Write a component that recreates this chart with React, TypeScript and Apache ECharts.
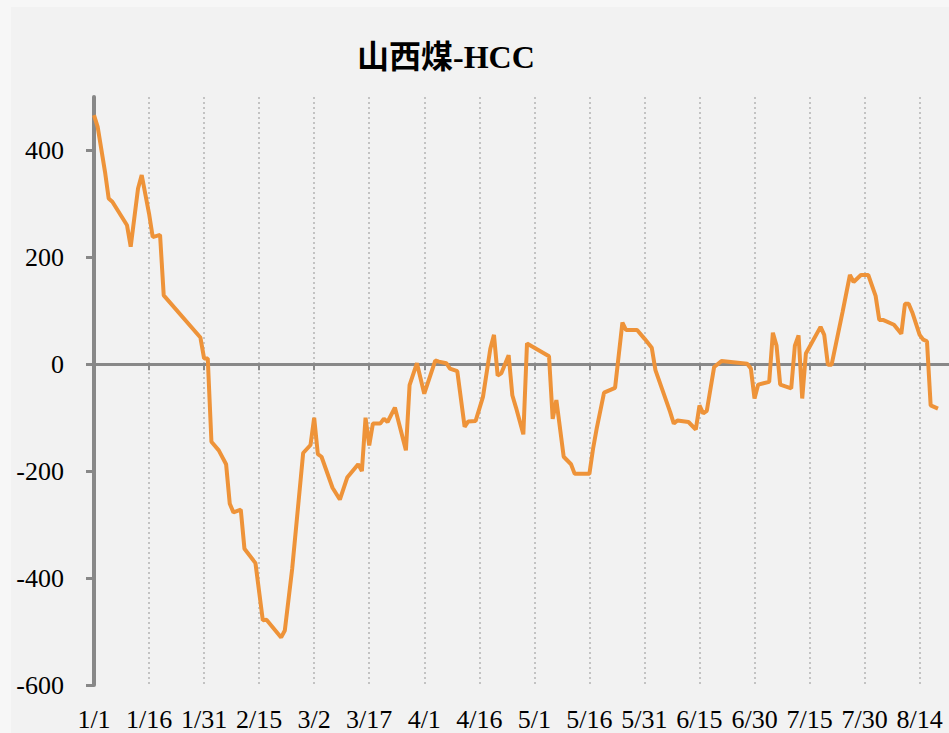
import React, { useEffect, useRef } from "react";
import * as echarts from "echarts";

// Category axis: every calendar day from 1/1 to 8/22 (labels shown every 15 days)
const DAY_COUNT = 234;
const dayLabels: string[] = Array.from({ length: DAY_COUNT }, (_, i) => {
  const d = new Date(2021, 0, 1 + i);
  return `${d.getMonth() + 1}/${d.getDate()}`;
});

// Observed points: index of the day (from 1/1) and value
const pointDays = [
  0, 1, 3, 4, 5, 9, 10, 12, 13, 15, 16, 18, 19, 29, 30, 31, 32, 34, 36, 37,
  38, 40, 41, 44, 46, 47, 51, 52, 54, 57, 59, 60, 61, 62, 65, 67, 69, 72, 73, 74,
  75, 76, 78, 79, 80, 82, 85, 86, 88, 90, 93, 94, 96, 97, 99, 101, 102, 104, 106, 108,
  109, 110, 111, 113, 114, 115, 117, 118, 124, 125, 126, 128, 130, 131, 135, 136, 137, 139, 142, 144,
  145, 148, 150, 152, 153, 157, 158, 159, 162, 164, 165, 166, 167, 169, 171, 178, 179, 180, 181, 184,
  185, 186, 187, 190, 191, 192, 193, 194, 198, 199, 200, 201, 204, 206, 207, 209, 211, 213, 214, 215,
  218, 220, 221, 222, 223, 225, 226, 227, 228, 230,
];
const pointValues = [
  466, 444, 360, 310, 304, 260, 220, 329, 354, 282, 238, 242, 129, 50, 11, 11, -145, -161, -187, -261,
  -277, -272, -345, -372, -479, -478, -511, -498, -383, -166, -151, -100, -168, -173, -231, -253, -212, -187, -200, -100,
  -152, -111, -111, -102, -108, -81, -161, -39, 2, -55, 7, 5, 2, -8, -13, -117, -107, -106, -61, 29,
  55, -21, -17, 17, -58, -81, -131, 39, 15, -102, -67, -173, -187, -205, -205, -158, -120, -53, -44, 78,
  64, 64, 48, 31, -11, -89, -111, -105, -108, -122, -77, -92, -87, -5, 6, 1, -8, -64, -38, -33,
  59, 35, -38, -45, 35, 54, -64, 20, 70, 55, -1, -1, 98, 167, 154, 167, 167, 128, 83, 83,
  74, 57, 113, 113, 97, 55, 46, 43, -77, -83,
];

const yTickValues = [-600, -400, -200, 0, 200, 400];

const TITLE = "山西煤-HCC";
const LINE_COLOR = "#EE9339";
const AXIS_COLOR = "#888888";
const SERIF = '"Liberation Serif", "Times New Roman", "Noto Sans CJK SC", serif';

export default function App() {
  const ref = useRef<HTMLDivElement>(null);

  useEffect(() => {
    document.body.style.margin = "0";
    if (!ref.current) return;
    const chart = echarts.init(ref.current, undefined, { renderer: "svg" });
    const seriesData = pointDays.map((d, i) => [d, pointValues[i]]);

    chart.setOption({
      animation: false,
      backgroundColor: "#f7f7f7",
      graphic: [
        {
          type: "rect",
          z: -10,
          silent: true,
          shape: { x: 11, y: 7, width: 960, height: 740 },
          style: { fill: "#f2f2f2" },
        },
      ],
      title: {
        text: TITLE,
        left: 352,
        top: 36,
        textStyle: {
          fontFamily: SERIF,
          fontWeight: "bold",
          fontSize: 32,
          color: "#000",
        },
      },
      grid: {
        left: 94,
        top: 97,
        width: 856,
        bottom: 48,
        containLabel: false,
      },
      xAxis: [
        {
          type: "category",
          data: dayLabels,
          boundaryGap: false,
          position: "bottom",
          axisLine: {
            show: true,
            onZero: true,
            lineStyle: { color: AXIS_COLOR, width: 3 },
          },
          axisTick: {
            show: true,
            interval: 14,
            length: 6,
            lineStyle: { color: AXIS_COLOR, width: 2 },
          },
          axisLabel: { show: false },
          splitLine: { show: false },
        },
        {
          type: "category",
          data: dayLabels,
          boundaryGap: false,
          position: "bottom",
          axisLine: { show: false, onZero: false },
          axisTick: { show: false },
          axisLabel: {
            show: true,
            interval: 14,
            margin: 21,
            fontFamily: SERIF,
            fontSize: 26,
            color: "#000",
          },
          splitLine: {
            show: true,
            interval: 14,
            lineStyle: { color: "#b4b4b4", width: 1.5, type: [2, 3] },
          },
        },
      ],
      yAxis: {
        type: "value",
        min: -600,
        max: 500,
        interval: 100,
        axisLine: {
          show: true,
          onZero: false,
          lineStyle: { color: AXIS_COLOR, width: 4 },
        },
        axisTick: {
          show: true,
          length: 8,
          customValues: yTickValues,
          lineStyle: { color: AXIS_COLOR, width: 3 },
        },
        axisLabel: {
          show: true,
          customValues: yTickValues,
          margin: 30,
          fontFamily: SERIF,
          fontSize: 26,
          color: "#000",
        },
        splitLine: { show: false },
      },
      series: [
        {
          type: "line",
          xAxisIndex: 0,
          data: seriesData,
          showSymbol: false,
          symbol: "none",
          lineStyle: { color: LINE_COLOR, width: 4 },
          itemStyle: { color: LINE_COLOR },
          z: 5,
        },
      ],
    });

    return () => chart.dispose();
  }, []);

  return <div ref={ref} style={{ width: 949, height: 733 }} />;
}
